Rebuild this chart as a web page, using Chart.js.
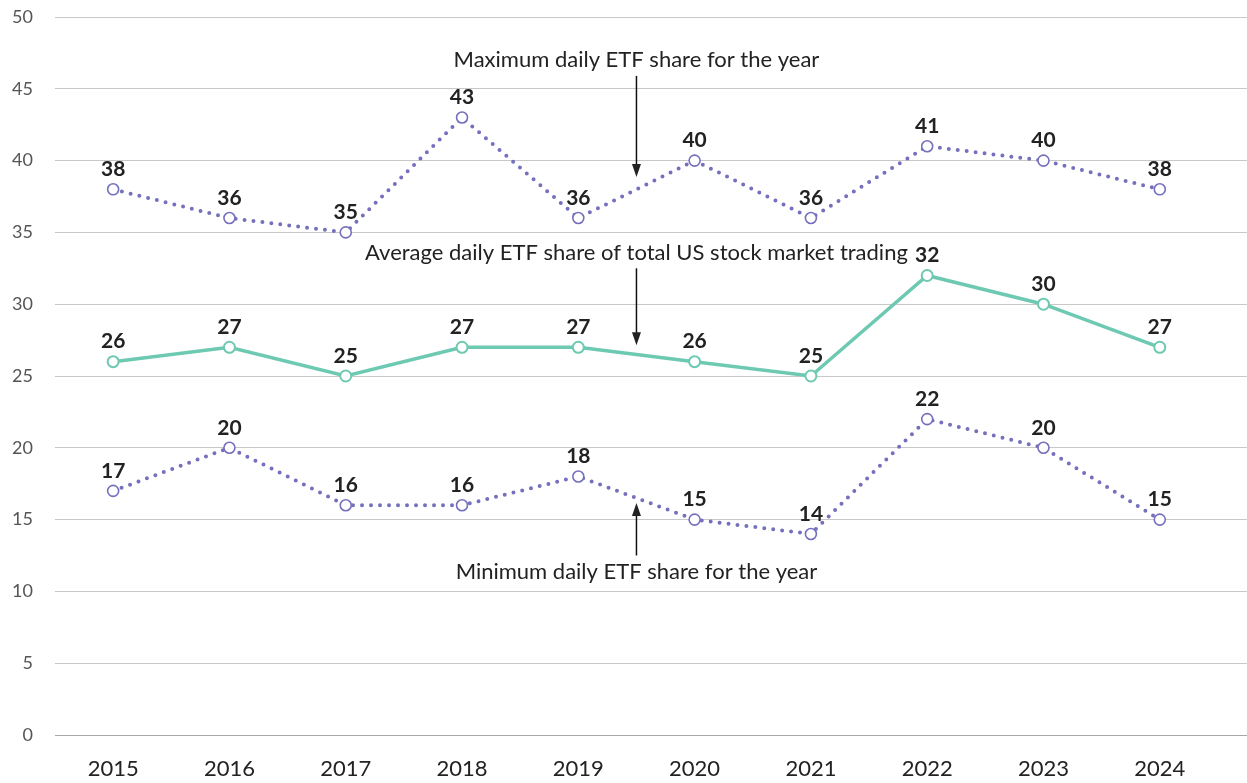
<!DOCTYPE html>
<html>
<head>
<meta charset="utf-8">
<script src="https://cdn.jsdelivr.net/npm/chart.js@4/dist/chart.umd.min.js"></script>
<style>
html,body{margin:0;padding:0;background:#fff;overflow:hidden;}
#wrap{width:1247px;height:783px;position:relative;}
canvas{display:block;}
</style>
</head>
<body>
<div id="wrap"><canvas id="c"></canvas></div>
<script>
const years = [2015, 2016, 2017, 2018, 2019, 2020, 2021, 2022, 2023, 2024];
const maxShare = [38, 36, 35, 43, 36, 40, 36, 41, 40, 38];
const avgShare = [26, 27, 25, 27, 27, 26, 25, 32, 30, 27];
const minShare = [17, 20, 16, 16, 18, 15, 14, 22, 20, 15];
const yTicks = [0, 5, 10, 15, 20, 25, 30, 35, 40, 45, 50];

// annotations in data coordinates
const annotationTexts = ['Maximum daily ETF share for the year', 'Average daily ETF share of total US stock market trading', 'Minimum daily ETF share for the year'];
const annotationX = [2019.5, 2019.5, 2019.5];
const annotationTextY = [47.0, 33.6, 11.35];
const annotationArrowFrom = [45.9, 32.5, 12.5];
const annotationArrowTo = [38.85, 27.15, 16.15];

const PURPLE = '#7570bd';
const TEAL = '#6dc9b1';
const FONT = 'Lato, "Open Sans", sans-serif';

const toXY = arr => years.map((y, i) => ({x: y, y: arr[i]}));

const dotted = color => ({
  borderColor: color, borderWidth: 4, borderDash: [0, 9], borderCapStyle: 'round',
  pointRadius: 5.5, pointBackgroundColor: '#fff', pointBorderColor: color, pointBorderWidth: 1.6,
  tension: 0, fill: false
});

const labelPlugin = {
  id: 'labels',
  afterDatasetsDraw(chart) {
    const ctx = chart.ctx;
    ctx.save();
    ctx.font = 'bold 21px ' + FONT;
    ctx.fillStyle = '#222';
    ctx.textAlign = 'center';
    ctx.textBaseline = 'middle';
    chart.data.datasets.forEach((ds, di) => {
      const meta = chart.getDatasetMeta(di);
      meta.data.forEach((pt, i) => {
        ctx.fillText(String(ds.data[i].y), pt.x, pt.y - 20);
      });
    });
    ctx.restore();
  }
};

const annotPlugin = {
  id: 'annots',
  afterDatasetsDraw(chart) {
    const ctx = chart.ctx, xs = chart.scales.x, ys = chart.scales.y;
    ctx.save();
    ctx.font = '22px ' + FONT;
    ctx.fillStyle = '#222';
    ctx.strokeStyle = '#111';
    ctx.lineWidth = 1.5;
    ctx.textAlign = 'center';
    ctx.textBaseline = 'middle';
    annotationTexts.forEach((t, i) => {
      const x = xs.getPixelForValue(annotationX[i]);
      ctx.fillText(t, x, ys.getPixelForValue(annotationTextY[i]));
      const y1 = ys.getPixelForValue(annotationArrowFrom[i]);
      const y2 = ys.getPixelForValue(annotationArrowTo[i]);
      const dir = y2 > y1 ? 1 : -1;
      ctx.beginPath();
      ctx.moveTo(x, y1);
      ctx.lineTo(x, y2 - dir * 8);
      ctx.stroke();
      ctx.beginPath();
      ctx.moveTo(x, y2);
      ctx.lineTo(x - 4.5, y2 - dir * 13);
      ctx.lineTo(x + 4.5, y2 - dir * 13);
      ctx.closePath();
      ctx.fill();
    });
    ctx.restore();
  }
};

new Chart(document.getElementById('c'), {
  type: 'line',
  data: {
    datasets: [
      Object.assign({label: 'Maximum', data: toXY(maxShare)}, dotted(PURPLE)),
      {label: 'Average', data: toXY(avgShare), borderColor: TEAL, borderWidth: 3.5,
       pointRadius: 5.5, pointBackgroundColor: '#fff', pointBorderColor: TEAL, pointBorderWidth: 2, tension: 0},
      Object.assign({label: 'Minimum', data: toXY(minShare)}, dotted(PURPLE))
    ]
  },
  options: {
    responsive: true,
    maintainAspectRatio: false,
    animation: false,
    layout: {autoPadding: false, padding: {top: 17, right: 0, left: 0, bottom: 0}},
    plugins: {legend: {display: false}, tooltip: {enabled: false}},
    scales: {
      x: {
        type: 'linear', min: 2014.5, max: 2024.75,
        afterBuildTicks: ax => { ax.ticks = years.map(v => ({value: v})); },
        afterFit: ax => { ax.height = 48; ax.paddingLeft = 0; ax.paddingRight = 0; },
        grid: {display: false}, border: {display: false},
        ticks: {padding: 13, color: '#222', font: {family: FONT, size: 22}, callback: v => String(v), autoSkip: false, maxRotation: 0}
      },
      y: {
        min: 0, max: 50,
        afterBuildTicks: ax => { ax.ticks = yTicks.map(v => ({value: v})); },
        afterFit: ax => { ax.width = 55; ax.paddingTop = 0; ax.paddingBottom = 0; },
        border: {display: false},
        grid: {color: c => c.tick.value === 0 ? '#a8a8a8' : '#c8c8c8', lineWidth: 1, drawTicks: false},
        ticks: {padding: 22, color: '#555', font: {family: FONT, size: 18}}
      }
    }
  },
  plugins: [labelPlugin, annotPlugin]
});
</script>
</body>
</html>
